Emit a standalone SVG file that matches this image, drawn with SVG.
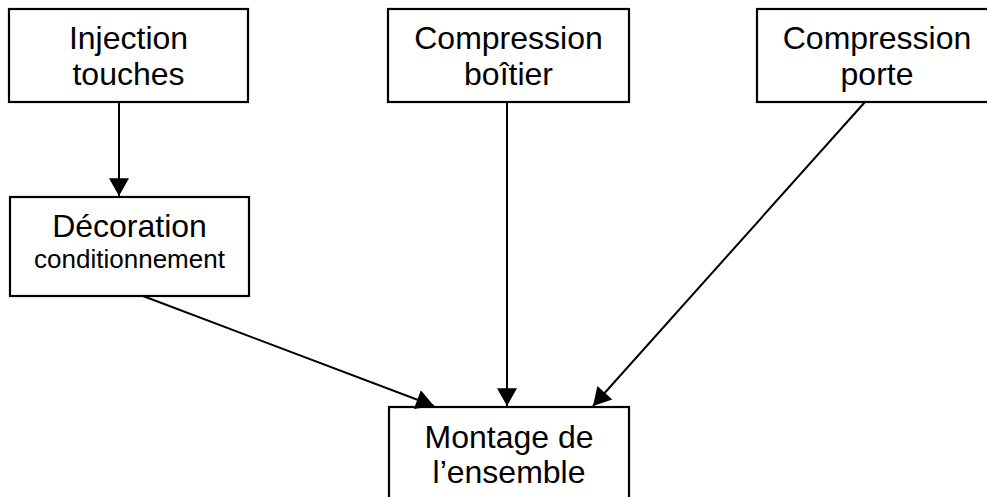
<svg xmlns="http://www.w3.org/2000/svg" width="987" height="497" viewBox="0 0 987 497">
<defs>
<marker id="ah" markerUnits="userSpaceOnUse" markerWidth="20" markerHeight="20" viewBox="0 0 16 18" refX="16" refY="9" orient="auto">
<path d="M0,0 L16,9 L0,18 Z" fill="#000"/>
</marker>
</defs>
<style>
.box{fill:#fff;stroke:#000;stroke-width:2.2}
.t{font-family:"Liberation Sans",Arial,sans-serif;font-size:32px;fill:#000;text-anchor:middle}
.s{font-size:26px}
.c{stroke:#000;stroke-width:2;fill:none;marker-end:url(#ah)}
</style>
<rect width="987" height="497" fill="#fff"/>
<g id="n-injection">
<rect class="box" x="9" y="9" width="239" height="93"/>
<text class="t" x="128.5" y="49">Injection</text>
<text class="t" x="128.5" y="85">touches</text>
</g>
<g id="n-boitier">
<rect class="box" x="388" y="9" width="241" height="93"/>
<text class="t" x="508.5" y="49">Compression</text>
<text class="t" x="508.5" y="85">boîtier</text>
</g>
<g id="n-porte">
<rect class="box" x="757" y="9" width="240" height="93"/>
<text class="t" x="877" y="49">Compression</text>
<text class="t" x="877" y="85">porte</text>
</g>
<g id="n-decoration">
<rect class="box" x="10" y="197" width="239" height="99"/>
<text class="t" x="129.5" y="237">Décoration</text>
<text class="t s" x="129.5" y="268">conditionnement</text>
</g>
<g id="n-montage">
<rect class="box" x="389" y="407" width="240" height="100"/>
<text class="t" x="509" y="448">Montage de</text>
<text class="t" x="509" y="483">l’ensemble</text>
</g>
<g id="connectors">
<line class="c" x1="119" y1="102" x2="119" y2="196"/>
<line class="c" x1="507" y1="102" x2="507" y2="406"/>
<line class="c" x1="865" y1="102" x2="593" y2="406"/>
<line class="c" x1="143" y1="296" x2="434" y2="406"/>
</g>
</svg>
